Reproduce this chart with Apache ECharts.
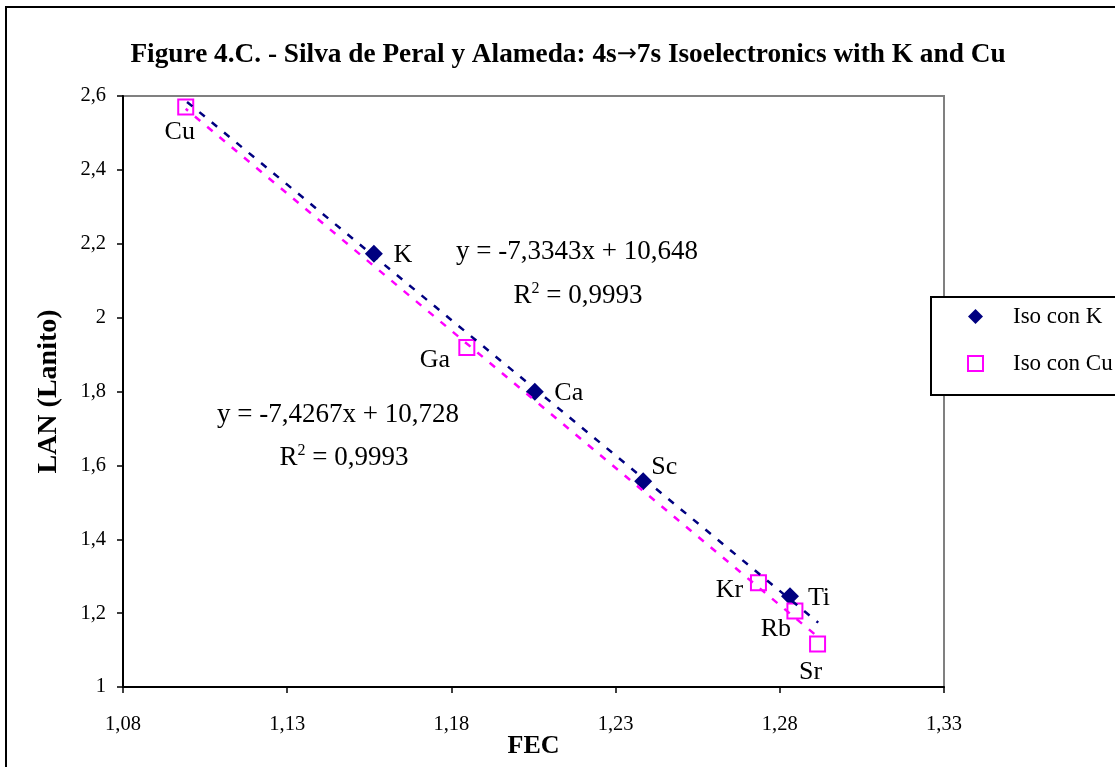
<!DOCTYPE html>
<html>
<head>
<meta charset="utf-8">
<script src="https://cdn.jsdelivr.net/npm/echarts@6/dist/echarts.min.js"></script>
<style>
html,body{margin:0;padding:0;background:#fff;}
#chart{width:1115px;height:767px;}
</style>
</head>
<body>
<div id="chart"></div>
<script>
// ---- data ----
const titleParts = ['Figure 4.C. - Silva de Peral y Alameda: 4s', '\u2192', '7s Isoelectronics with K and Cu'];
const xName = 'FEC';
const yName = 'LAN (Lanito)';
const seriesNames = ['Iso con K', 'Iso con Cu'];

const kNames = ['K', 'Ca', 'Sc', 'Ti'];
const kFEC = [1.1564, 1.2054, 1.2384, 1.2831];
const kLAN = [2.173, 1.799, 1.557, 1.246];

const cuNames = ['Cu', 'Ga', 'Kr', 'Rb', 'Sr'];
const cuFEC = [1.0991, 1.1847, 1.2735, 1.2846, 1.2915];
const cuLAN = [2.570, 1.919, 1.282, 1.206, 1.1165];

const kTrend = { slope: -7.3343, intercept: 10.648, from: 1.0995, to: 1.2917 };
const cuTrend = { slope: -7.4267, intercept: 10.728, from: 1.0991, to: 1.2915 };

const kEquation = ['y = -7,3343x + 10,648', '0,9993'];
const cuEquation = ['y = -7,4267x + 10,728', '0,9993'];

const xTicks = { min: 1.08, max: 1.33, step: 0.05 };
const yTicks = { min: 1, max: 2.6, step: 0.2 };

// ---- styling (not data) ----
const FONT = "'Liberation Serif', 'Times New Roman', serif";
const NAVY = '#000080';
const MAGENTA = '#FF00FF';
const labelOffsets = {
  K: [29, 1], Ca: [34, 1], Sc: [21, -14], Ti: [29, 2],
  Cu: [-6, 25], Ga: [-32, 13], Kr: [-29, 7], Rb: [-19, 18], Sr: [-7, 28]
};

function points(names, xs, ys) {
  return names.map((n, i) => ({
    name: n,
    value: [xs[i], ys[i]],
    label: {
      show: true, formatter: n, position: 'inside', offset: labelOffsets[n],
      color: '#000', opacity: 1, textBorderWidth: 0, fontFamily: FONT, fontSize: 26
    }
  }));
}
function trendLine(t) {
  return [[t.from, t.slope * t.from + t.intercept], [t.to, t.slope * t.to + t.intercept]];
}
function comma(v, d) {
  return Number(v.toFixed(d)).toString().replace('.', ',');
}

const chart = echarts.init(document.getElementById('chart'), null, { renderer: 'canvas' });

const eqRich = {
  a: { fontSize: 27, fontFamily: FONT, color: '#000', lineHeight: 30 },
  s: { fontSize: 16, fontFamily: FONT, color: '#000', verticalAlign: 'top', lineHeight: 30 }
};
function eqGroup(lines, cx1, cy1, cx2, cy2) {
  return [
    { type: 'text', x: cx1, y: cy1, z: 50,
      style: { text: lines[0], fontSize: 27, fontFamily: FONT, fill: '#000', align: 'center', verticalAlign: 'middle' } },
    { type: 'text', x: cx2, y: cy2, z: 50,
      style: { text: '{a|R}{s|2}{a| = ' + lines[1] + '}', rich: eqRich, align: 'center', verticalAlign: 'middle' } }
  ];
}

const option = {
  backgroundColor: '#fff',
  animation: false,
  title: {
    text: '{t|' + titleParts[0] + '}{arr|' + titleParts[1] + '}{t|' + titleParts[2] + '}',
    left: 563, top: 36, textAlign: 'center',
    textStyle: {
      fontFamily: FONT, fontSize: 27, fontWeight: 'bold', color: '#000',
      rich: {
        t: { fontFamily: FONT, fontSize: 27.3, fontWeight: 'bold', color: '#000' },
        arr: { fontFamily: "'DejaVu Sans'", fontSize: 24, fontWeight: 'normal', color: '#000' }
      }
    }
  },
  legend: {
    data: seriesNames,
    orient: 'vertical',
    left: 931, top: 297,
    padding: [8, 20, 20, 36],
    itemGap: 24,
    itemWidth: 15, itemHeight: 15,
    borderColor: '#000', borderWidth: 2,
    backgroundColor: '#fff',
    textStyle: { fontFamily: FONT, fontSize: 23, color: '#000', padding: [0, 0, 0, 25] }
  },
  grid: {
    left: 123, top: 96, right: 171, bottom: 80,
    outerBoundsMode: 'none', containLabel: false,
    show: true, borderColor: '#808080', borderWidth: 2, backgroundColor: '#fff'
  },
  xAxis: {
    type: 'value', min: xTicks.min, max: xTicks.max, interval: xTicks.step,
    name: xName, nameLocation: 'middle', nameGap: 46, nameMoveOverlap: false,
    nameTextStyle: { fontFamily: FONT, fontSize: 26, fontWeight: 'bold', color: '#000' },
    axisLine: { show: true, lineStyle: { color: '#000', width: 2 } },
    axisTick: { show: true, length: 6, lineStyle: { color: '#000', width: 1.5 } },
    axisLabel: { fontFamily: FONT, fontSize: 20.5, color: '#000', margin: 27, formatter: v => comma(v, 2) },
    splitLine: { show: false }
  },
  yAxis: {
    type: 'value', min: yTicks.min, max: yTicks.max, interval: yTicks.step,
    name: yName, nameLocation: 'middle', nameGap: 60,
    nameTextStyle: { fontFamily: FONT, fontSize: 28, fontWeight: 'bold', color: '#000' },
    axisLine: { show: true, lineStyle: { color: '#000', width: 2 } },
    axisTick: { show: true, length: 6, lineStyle: { color: '#000', width: 1.5 } },
    axisLabel: { fontFamily: FONT, fontSize: 20.5, color: '#000', margin: 17, formatter: v => comma(v, 1) },
    splitLine: { show: false }
  },
  series: [
    {
      name: seriesNames[0], type: 'scatter', symbol: 'diamond', symbolSize: 18, z: 3,
      itemStyle: { color: NAVY, opacity: 1 },
      emphasis: { disabled: true },
      data: points(kNames, kFEC, kLAN)
    },
    {
      name: seriesNames[1], type: 'scatter', symbol: 'emptyRect', symbolSize: 15, z: 3,
      itemStyle: { color: MAGENTA, borderWidth: 2, opacity: 1 },
      emphasis: { disabled: true },
      data: points(cuNames, cuFEC, cuLAN)
    },
    {
      name: 'trendK', type: 'line', showSymbol: false, silent: true, z: 5,
      lineStyle: { color: NAVY, width: 2.5, type: [7, 9] },
      data: trendLine(kTrend)
    },
    {
      name: 'trendCu', type: 'line', showSymbol: false, silent: true, z: 4,
      lineStyle: { color: MAGENTA, width: 2.5, type: [7, 9], dashOffset: 4 },
      data: trendLine(cuTrend)
    }
  ],
  graphic: [
    { type: 'rect', shape: { x: 6, y: 7, width: 1200, height: 900 }, z: 100,
      style: { fill: 'none', stroke: '#000', lineWidth: 2 }, silent: true }
  ].concat(eqGroup(kEquation, 577, 252, 578, 296))
   .concat(eqGroup(cuEquation, 338, 415, 344, 458))
};
chart.setOption(option);
</script>
</body>
</html>
